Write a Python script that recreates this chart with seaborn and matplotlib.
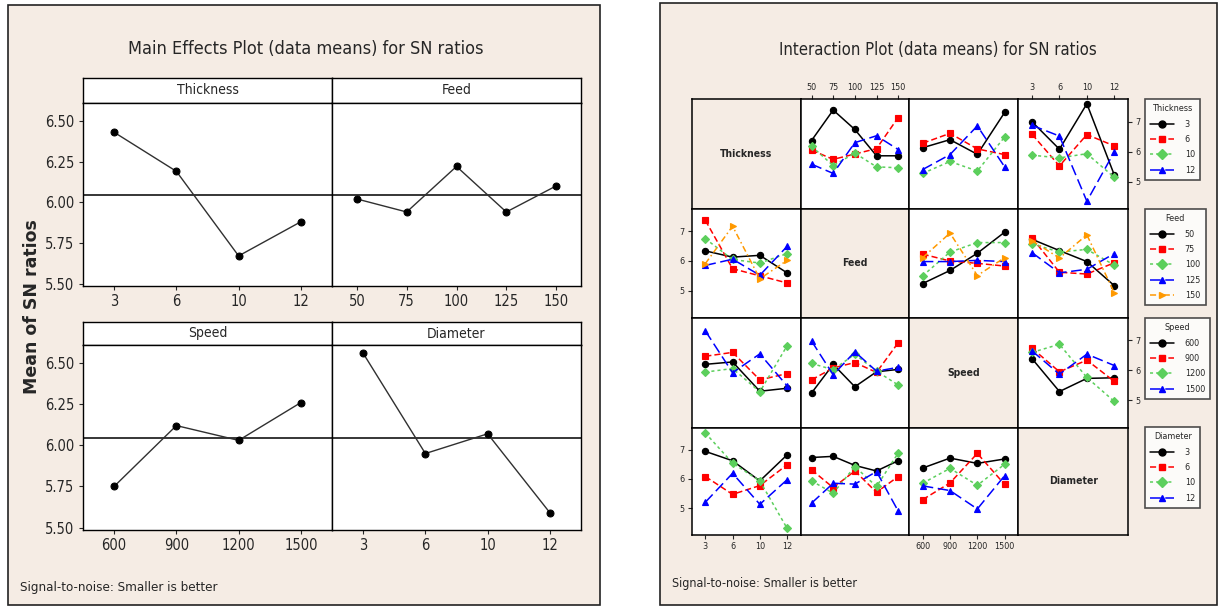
import numpy as np
import pandas as pd
import matplotlib
matplotlib.use("Agg")
import matplotlib.pyplot as plt
import seaborn as sns
from matplotlib import font_manager as fm
from matplotlib.patches import Rectangle
from matplotlib.lines import Line2D

# factor levels
thickness_lv = ['3', '6', '10', '12']
feed_lv = ['50', '75', '100', '125', '150']
speed_lv = ['600', '900', '1200', '1500']
diameter_lv = ['3', '6', '10', '12']

# main effects (mean of SN ratios)
thickness_sn = [6.43, 6.19, 5.67, 5.88]
feed_sn = [6.02, 5.94, 6.22, 5.94, 6.10]
speed_sn = [5.75, 6.12, 6.03, 6.26]
diameter_sn = [6.56, 5.95, 6.07, 5.59]

# interaction means: rows = trace factor level, columns = x factor level
thk_x_feed = [[6.37, 7.39, 6.74, 5.86, 5.86],
              [6.05, 5.74, 5.92, 6.10, 7.14],
              [6.18, 5.53, 5.95, 5.49, 5.46],
              [5.58, 5.27, 6.30, 6.53, 6.07]]
thk_x_speed = [[6.13, 6.40, 5.91, 7.31],
               [6.28, 6.61, 6.09, 5.90],
               [5.27, 5.67, 5.35, 6.49],
               [5.40, 5.90, 6.86, 5.49]]
thk_x_diam = [[7.00, 6.08, 7.60, 5.22],
              [6.58, 5.52, 6.57, 6.19],
              [5.88, 5.79, 5.93, 5.14],
              [6.88, 6.52, 4.34, 5.99]]
feed_x_thk = [[6.34, 6.13, 6.19, 5.60],
              [7.37, 5.74, 5.50, 5.26],
              [6.75, 6.05, 5.93, 6.25],
              [5.85, 6.06, 5.52, 6.49],
              [5.91, 7.17, 5.40, 6.02]]
feed_x_speed = [[5.24, 5.68, 6.26, 6.97],
                [6.23, 6.00, 5.92, 5.83],
                [5.50, 6.30, 6.62, 6.62],
                [5.98, 5.98, 6.02, 5.98],
                [6.11, 6.94, 5.51, 6.11]]
feed_x_diam = [[6.73, 6.35, 5.98, 5.17],
               [6.78, 5.62, 5.56, 5.94],
               [6.58, 6.30, 6.39, 5.86],
               [6.28, 5.60, 5.72, 6.25],
               [6.68, 6.10, 6.88, 4.93]]
speed_x_thk = [[6.20, 6.28, 5.30, 5.40],
               [6.47, 6.60, 5.68, 5.89],
               [5.94, 6.06, 5.28, 6.82],
               [7.32, 5.92, 6.55, 5.48]]
speed_x_feed = [[5.24, 6.20, 5.45, 5.95, 6.03],
                [5.68, 6.08, 6.26, 5.93, 6.92],
                [6.23, 6.02, 6.54, 5.97, 5.51],
                [6.98, 5.85, 6.62, 5.97, 6.10]]
speed_x_diam = [[6.39, 5.29, 5.73, 5.75],
                [6.74, 5.95, 6.34, 5.63],
                [6.60, 6.87, 5.76, 4.96],
                [6.65, 5.87, 6.54, 6.16]]
diam_x_thk = [[6.94, 6.62, 5.93, 6.82],
              [6.08, 5.47, 5.77, 6.48],
              [7.57, 6.54, 5.93, 4.31],
              [5.20, 6.19, 5.13, 5.97]]
diam_x_feed = [[6.73, 6.77, 6.46, 6.27, 6.62],
               [6.31, 5.70, 6.27, 5.54, 6.08],
               [5.93, 5.51, 6.42, 5.74, 6.88],
               [5.17, 5.85, 5.82, 6.25, 4.90]]
diam_x_speed = [[6.37, 6.71, 6.53, 6.68],
                [5.29, 5.86, 6.87, 5.81],
                [5.85, 6.36, 5.78, 6.50],
                [5.76, 5.60, 4.97, 6.11]]

factors = ['Thickness', 'Feed', 'Speed', 'Diameter']
levels = {'Thickness': thickness_lv, 'Feed': feed_lv,
          'Speed': speed_lv, 'Diameter': diameter_lv}
cells = {(0, 1): thk_x_feed, (0, 2): thk_x_speed, (0, 3): thk_x_diam,
         (1, 0): feed_x_thk, (1, 2): feed_x_speed, (1, 3): feed_x_diam,
         (2, 0): speed_x_thk, (2, 1): speed_x_feed, (2, 3): speed_x_diam,
         (3, 0): diam_x_thk, (3, 1): diam_x_feed, (3, 2): diam_x_speed}

colors = ['black', '#ff0000', '#5ccf5c', '#0000ff', '#ff9900']
markers = ['o', 's', 'D', '^', '>']
styles = ['-', (0, (4, 2)), (0, (2, 2)), (0, (7, 3)), (0, (4, 2, 1, 2))]

sns.set_style("white")

# pick a narrow font if one is around (Minitab uses a condensed face)
installed = {(f.name, f.stretch) for f in fm.fontManager.ttflist}
names = {n for n, _ in installed}
if 'Liberation Sans Narrow' in names:
    plt.rcParams['font.family'] = ['Liberation Sans Narrow', 'DejaVu Sans']
else:
    plt.rcParams['font.family'] = ['DejaVu Sans']
    if any(n == 'DejaVu Sans' and s == 'condensed' for n, s in installed):
        plt.rcParams['font.stretch'] = 'condensed'

W, H = 1219, 609
beige = '#f5ece4'
fig = plt.figure(figsize=(W / 100, H / 100), dpi=100)


def px_axes(x0, y0, x1, y1):
    return fig.add_axes([x0 / W, 1 - y1 / H, (x1 - x0) / W, (y1 - y0) / H])


def panel_bg(x0, y0, x1, y1):
    fig.patches.append(Rectangle((x0 / W, 1 - y1 / H), (x1 - x0) / W, (y1 - y0) / H,
                                 transform=fig.transFigure, facecolor=beige,
                                 edgecolor='#222222', lw=1.2, zorder=-5))


def frame(ax, lw=1.0):
    for s in ax.spines.values():
        s.set_visible(True)
        s.set_color('black')
        s.set_linewidth(lw)


# ---------------- main effects plot ----------------
panel_bg(8, 5, 600, 605)
fig.text(306 / W, 1 - 49 / H, 'Main Effects Plot (data means) for SN ratios',
         ha='center', va='center', fontsize=13)

main_data = [('Thickness', thickness_lv, thickness_sn),
             ('Feed', feed_lv, feed_sn),
             ('Speed', speed_lv, speed_sn),
             ('Diameter', diameter_lv, diameter_sn)]
grand_mean = np.mean(thickness_sn)
col_x = [(83, 332), (332, 581)]
row_y = [(78, 103, 286), (322, 345, 530)]

for i, (name, lv, vals) in enumerate(main_data):
    r, c = divmod(i, 2)
    x0, x1 = col_x[c]
    st, pt, pb = row_y[r]
    sax = px_axes(x0, st, x1, pt)
    sax.set_facecolor('white')
    sax.set_xticks([])
    sax.set_yticks([])
    frame(sax)
    sax.text(0.5, 0.5, name, ha='center', va='center', fontsize=10,
             transform=sax.transAxes)

    ax = px_axes(x0, pt, x1, pb)
    ax.set_facecolor('white')
    df = pd.DataFrame({'level': lv, 'sn': vals})
    sns.pointplot(data=df, x='level', y='sn', order=lv, color='black',
                  errorbar=None, markers='o', markersize=5, linewidth=1.0, ax=ax)
    for ln in ax.lines:
        ln.set_color('#303030')
        ln.set_markerfacecolor('black')
        ln.set_markeredgecolor('black')
    ax.axhline(grand_mean, color='black', lw=1.1, zorder=0)
    ax.set_ylim(5.485, 6.61)
    ax.set_yticks([5.5, 5.75, 6.0, 6.25, 6.5])
    ax.set_xlabel('')
    ax.set_ylabel('')
    frame(ax)
    ax.tick_params(axis='both', direction='out', length=3, width=0.8,
                   labelsize=10.5, pad=3, bottom=True, left=(c == 0))
    if c == 0:
        ax.set_yticklabels(['%.2f' % v for v in [5.5, 5.75, 6.0, 6.25, 6.5]])
    else:
        ax.set_yticklabels([])

fig.text(32 / W, 1 - 307 / H, 'Mean of SN ratios', rotation=90, ha='center',
         va='center', fontsize=12.5, fontweight='bold', fontstretch='normal',
         family=['DejaVu Sans'])
fig.text(20 / W, 1 - 587 / H, 'Signal-to-noise: Smaller is better',
         ha='left', va='center', fontsize=9.5)

# ---------------- interaction plot ----------------
panel_bg(660, 3, 1217, 605)
fig.text(938 / W, 1 - 50 / H, 'Interaction Plot (data means) for SN ratios',
         ha='center', va='center', fontsize=12)

gx = [691.7, 800.7, 909, 1018.3, 1128]
gy = [99.3, 209, 318, 427.7, 535]

for r in range(4):
    for c in range(4):
        ax = px_axes(gx[c], gy[r], gx[c + 1], gy[r + 1])
        frame(ax, 1.1)
        if r == c:
            ax.set_facecolor(beige)
            ax.set_xticks([])
            ax.set_yticks([])
            ax.text(0.5, 0.5, factors[r], ha='center', va='center',
                    fontsize=7.5, fontweight='bold', transform=ax.transAxes)
            continue
        ax.set_facecolor('white')
        tr_lv = levels[factors[r]]
        x_lv = levels[factors[c]]
        vals = cells[(r, c)]
        rows = []
        for k, t in enumerate(tr_lv):
            for j, xl in enumerate(x_lv):
                rows.append((xl, t, vals[k][j]))
        df = pd.DataFrame(rows, columns=['x', 'trace', 'sn'])
        n = len(tr_lv)
        sns.pointplot(data=df, x='x', y='sn', hue='trace', order=x_lv,
                      hue_order=tr_lv, palette=colors[:n], markers=markers[:n],
                      linestyles=styles[:n], errorbar=None, markersize=4.5,
                      linewidth=1.1, legend=False, ax=ax)
        ax.set_ylim(4.08, 7.75)
        ax.set_yticks([5, 6, 7])
        ax.set_xlabel('')
        ax.set_ylabel('')
        ax.tick_params(axis='both', direction='out', length=3, width=0.8,
                       labelsize=6.5, pad=2)
        # x ticks only on outer edges
        if r == 3 and c in (0, 2):
            ax.tick_params(axis='x', bottom=True, labelbottom=True,
                           top=False, labeltop=False)
        elif r == 0 and c in (1, 3):
            ax.tick_params(axis='x', bottom=False, labelbottom=False,
                           top=True, labeltop=True)
        else:
            ax.tick_params(axis='x', bottom=False, labelbottom=False)
        # y ticks only on outer edges
        if c == 0 and r in (1, 3):
            ax.tick_params(axis='y', left=True, labelleft=True)
        elif c == 3 and r in (0, 2):
            ax.tick_params(axis='y', left=False, labelleft=False,
                           right=True, labelright=True)
        else:
            ax.tick_params(axis='y', left=False, labelleft=False)

# legends
leg_top = [99, 209, 318, 427]
for r, name in enumerate(factors):
    tr_lv = levels[name]
    handles = [Line2D([0], [0], color=colors[k], marker=markers[k],
                      linestyle=styles[k], lw=1.1, markersize=5)
               for k in range(len(tr_lv))]
    leg = fig.legend(handles, tr_lv, title=name, loc='upper left',
                     bbox_to_anchor=(1145 / W, 1 - leg_top[r] / H),
                     fontsize=6.5, title_fontsize=6.5, frameon=True,
                     fancybox=False, edgecolor='#222222', handlelength=2.6,
                     borderpad=0.6, labelspacing=0.7, handletextpad=1.2,
                     borderaxespad=0)
    leg.get_frame().set_linewidth(1.2)
    leg.get_frame().set_facecolor('white')

fig.text(672 / W, 1 - 583 / H, 'Signal-to-noise: Smaller is better',
         ha='left', va='center', fontsize=9)

fig.savefig('out.png', dpi=100)
